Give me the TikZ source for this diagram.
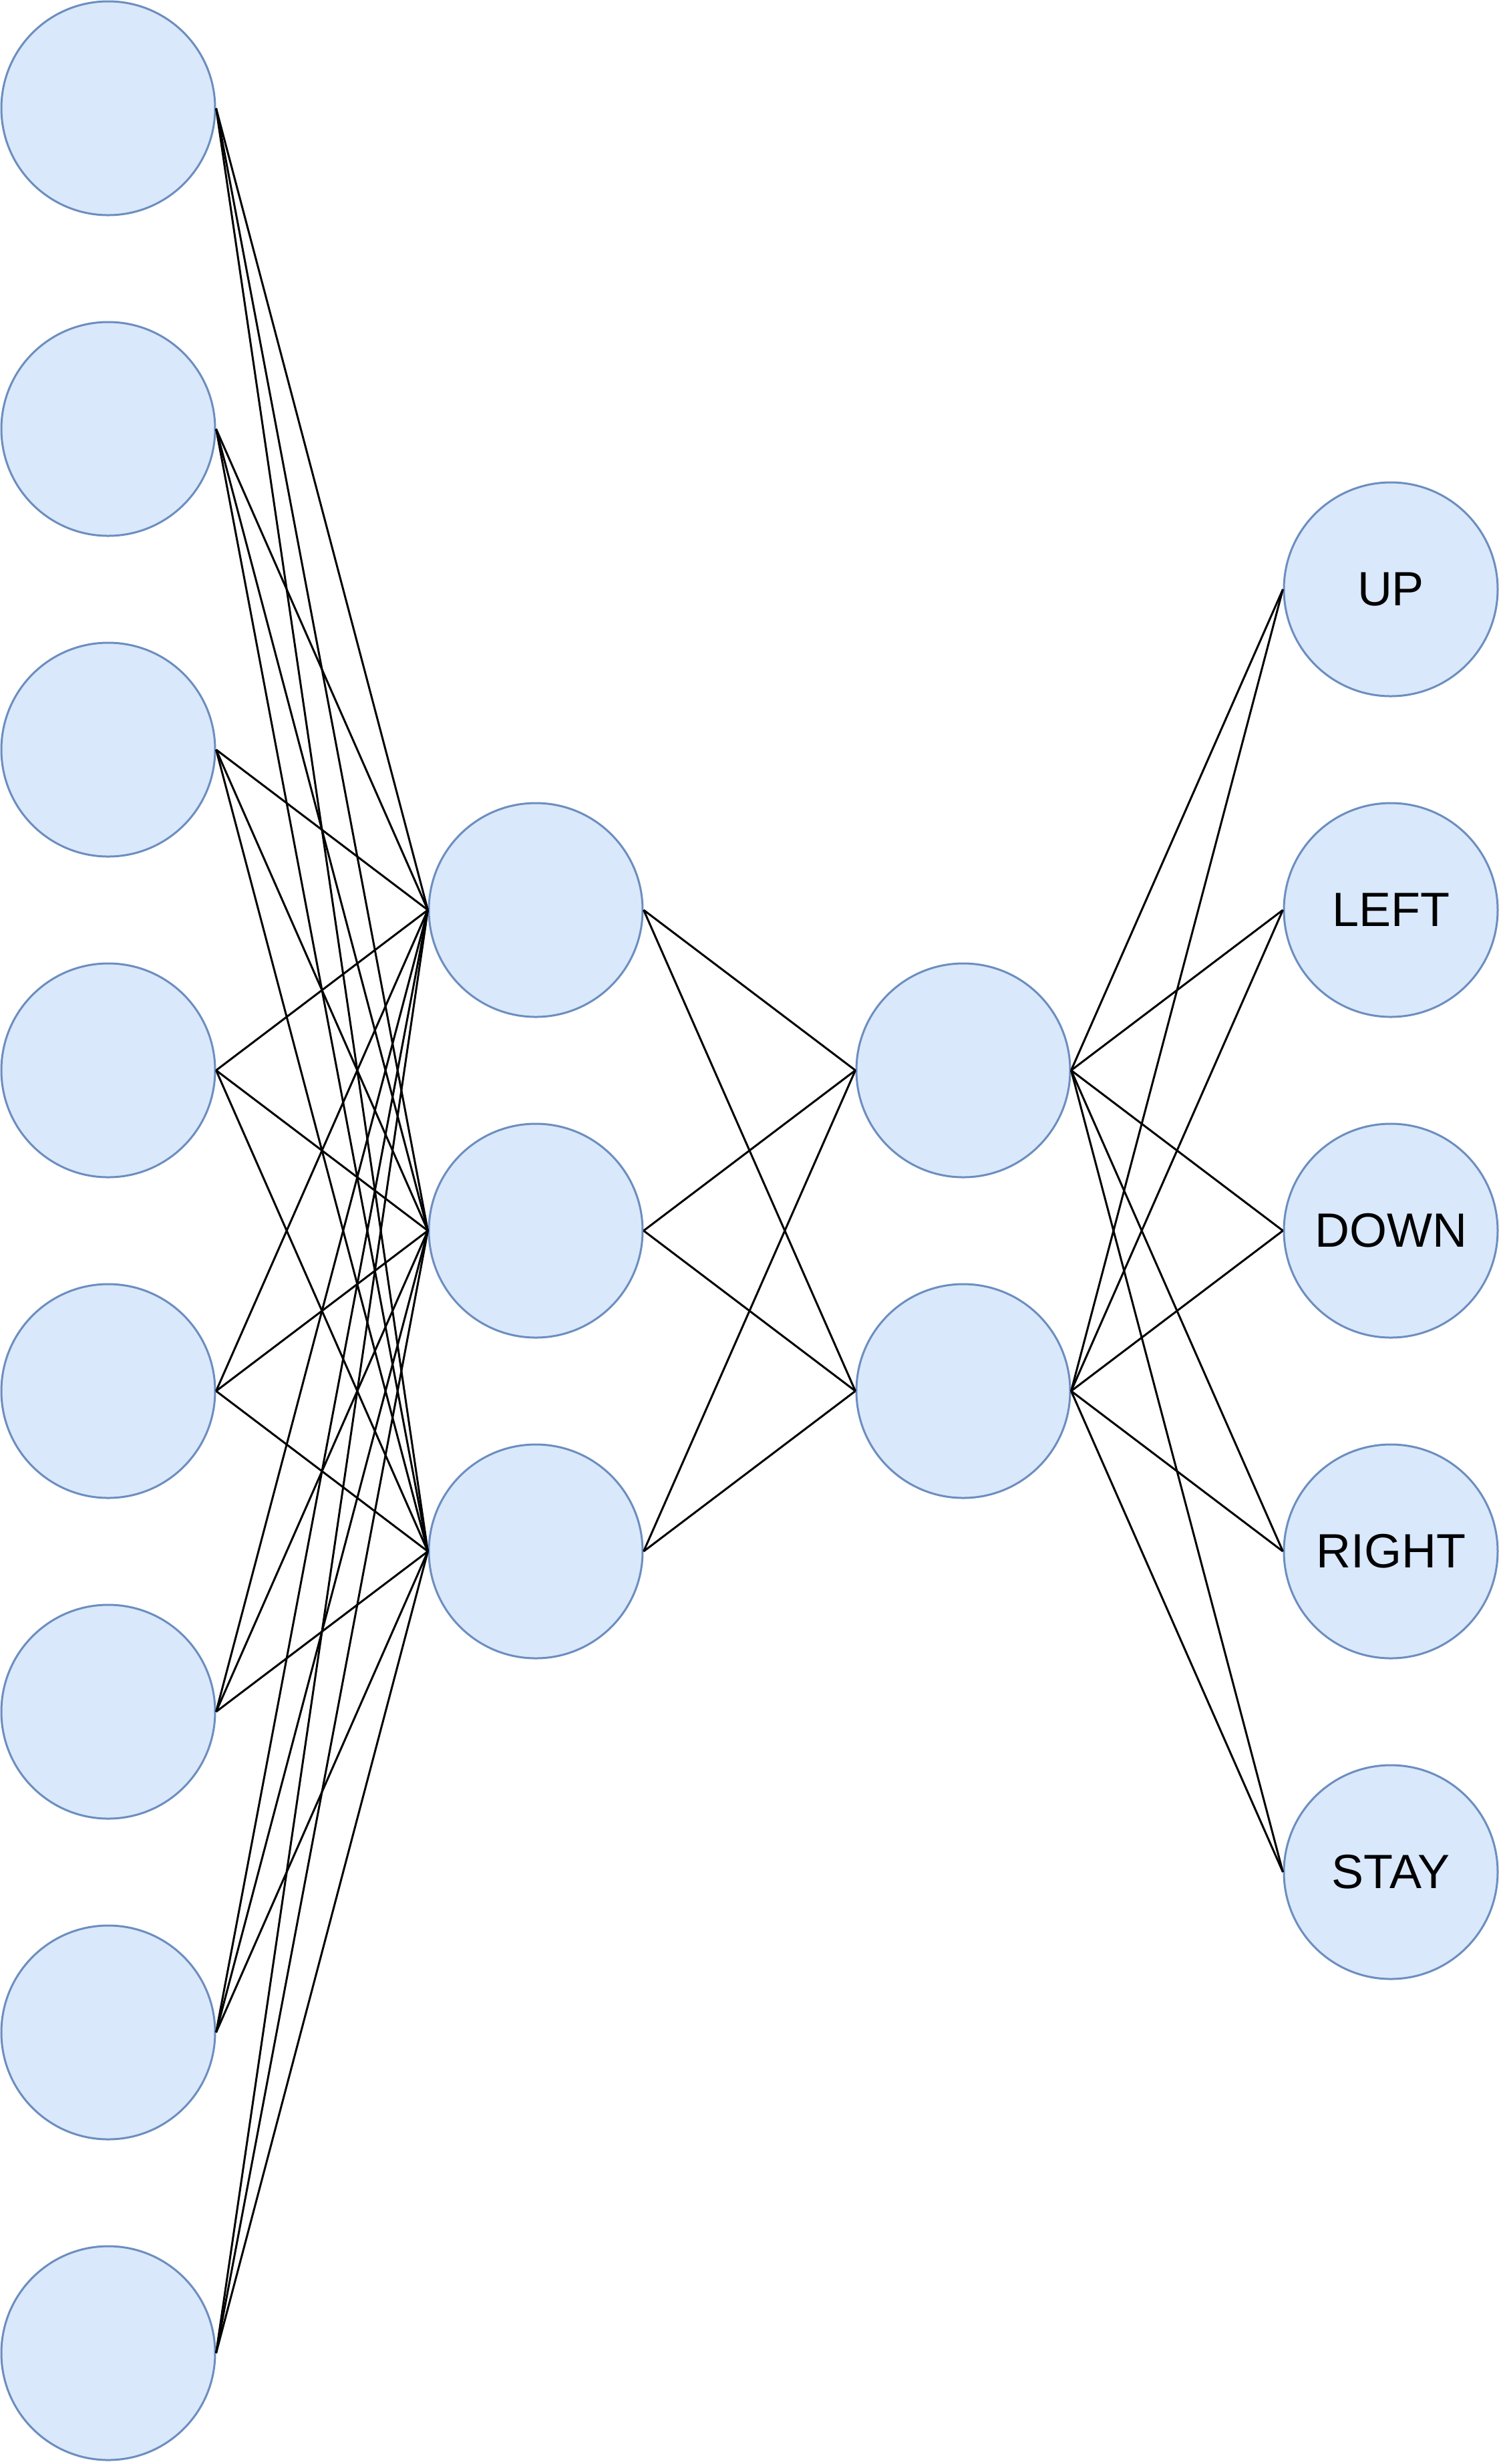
\documentclass[tikz,border=0pt]{standalone}
\usepackage{fontspec}
\setmainfont{Liberation Sans}
\definecolor{nfill}{HTML}{DAE8FC}
\definecolor{ndraw}{HTML}{6C8EBF}
\begin{document}
\begin{tikzpicture}[x=1pt,y=-1pt,
  neuron/.style={circle,draw=ndraw,fill=nfill,line width=0.75pt,minimum size=80pt,inner sep=0pt,font=\fontsize{18}{21}\selectfont},
  conn/.style={draw=black,line width=0.75pt}]
\useasboundingbox (0,0) rectangle (561,922);
\foreach \i in {1,...,8}{
  \node[neuron] (in\i) at (40.5,{40.5+120*(\i-1)}) {};
}
\foreach \i in {1,2,3}{
  \node[neuron] (ha\i) at (200.5,{340.5+120*(\i-1)}) {};
}
\foreach \i in {1,2}{
  \node[neuron] (hb\i) at (360.5,{400.5+120*(\i-1)}) {};
}
\node[neuron] (o1) at (520.5,220.5) {UP};
\node[neuron] (o2) at (520.5,340.5) {LEFT};
\node[neuron] (o3) at (520.5,460.5) {DOWN};
\node[neuron] (o4) at (520.5,580.5) {RIGHT};
\node[neuron] (o5) at (520.5,700.5) {STAY};
\foreach \i in {1,...,8}{
  \foreach \j in {1,2,3}{
    \draw[conn] (in\i.east) -- (ha\j.west);
  }
}
\foreach \i in {1,2,3}{
  \foreach \j in {1,2}{
    \draw[conn] (ha\i.east) -- (hb\j.west);
  }
}
\foreach \i in {1,2}{
  \foreach \j in {1,...,5}{
    \draw[conn] (hb\i.east) -- (o\j.west);
  }
}
\end{tikzpicture}
\end{document}
